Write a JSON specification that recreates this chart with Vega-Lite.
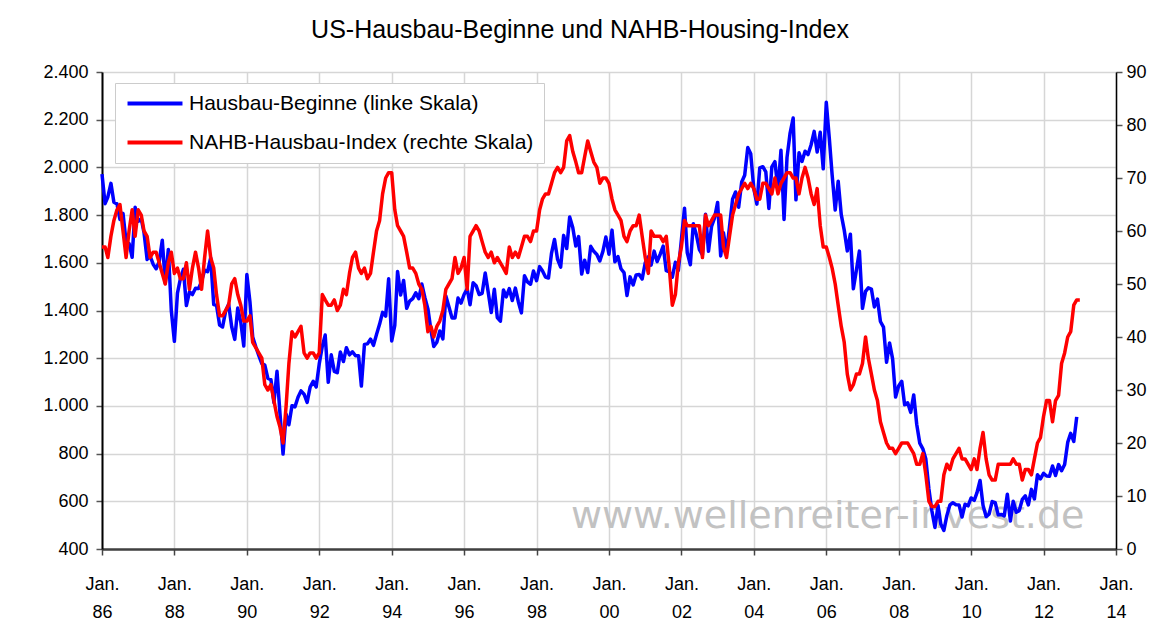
{
"$schema": "https://vega.github.io/schema/vega-lite/v6.json",
"width": 1014, "height": 477,
"autosize": {"type": "none"},
"padding": {"left": 102, "top": 72, "right": 34, "bottom": 75},
"background": "white",
"config": {"font": "Liberation Sans", "view": {"stroke": null},
  "locale": {"number": {"decimal": ",", "thousands": ".", "grouping": [3], "currency": ["", " €"]}}},
"title": {"text": "US-Hausbau-Beginne und NAHB-Housing-Index", "fontSize": 25, "fontWeight": "normal", "color": "#000", "font": "Liberation Sans", "anchor": "middle", "dx": -29, "offset": 20},
"data": {"values": [
{"d":"1986-01","hs":1972,"nahb":57},{"d":"1986-02","hs":1848,"nahb":57},{"d":"1986-03","hs":1876,"nahb":55},{"d":"1986-04","hs":1933,"nahb":59},{"d":"1986-05","hs":1854,"nahb":62},{"d":"1986-06","hs":1847,"nahb":64},{"d":"1986-07","hs":1782,"nahb":65},{"d":"1986-08","hs":1807,"nahb":60},{"d":"1986-09","hs":1687,"nahb":55},{"d":"1986-10","hs":1681,"nahb":60},{"d":"1986-11","hs":1623,"nahb":64},{"d":"1986-12","hs":1833,"nahb":59},
{"d":"1987-01","hs":1774,"nahb":64},{"d":"1987-02","hs":1784,"nahb":63},{"d":"1987-03","hs":1726,"nahb":60},{"d":"1987-04","hs":1614,"nahb":59},{"d":"1987-05","hs":1628,"nahb":55},{"d":"1987-06","hs":1594,"nahb":56},{"d":"1987-07","hs":1575,"nahb":56},{"d":"1987-08","hs":1605,"nahb":54},{"d":"1987-09","hs":1695,"nahb":52},{"d":"1987-10","hs":1515,"nahb":50},{"d":"1987-11","hs":1656,"nahb":54},{"d":"1987-12","hs":1400,"nahb":56},
{"d":"1988-01","hs":1271,"nahb":52},{"d":"1988-02","hs":1473,"nahb":53},{"d":"1988-03","hs":1532,"nahb":51},{"d":"1988-04","hs":1573,"nahb":51},{"d":"1988-05","hs":1421,"nahb":54},{"d":"1988-06","hs":1478,"nahb":49},{"d":"1988-07","hs":1467,"nahb":53},{"d":"1988-08","hs":1493,"nahb":56},{"d":"1988-09","hs":1492,"nahb":53},{"d":"1988-10","hs":1522,"nahb":49},{"d":"1988-11","hs":1569,"nahb":55},{"d":"1988-12","hs":1563,"nahb":60},
{"d":"1989-01","hs":1621,"nahb":55},{"d":"1989-02","hs":1425,"nahb":53},{"d":"1989-03","hs":1422,"nahb":48},{"d":"1989-04","hs":1339,"nahb":44},{"d":"1989-05","hs":1331,"nahb":44},{"d":"1989-06","hs":1397,"nahb":45},{"d":"1989-07","hs":1427,"nahb":46},{"d":"1989-08","hs":1332,"nahb":50},{"d":"1989-09","hs":1279,"nahb":51},{"d":"1989-10","hs":1410,"nahb":48},{"d":"1989-11","hs":1351,"nahb":46},{"d":"1989-12","hs":1251,"nahb":43},
{"d":"1990-01","hs":1551,"nahb":43},{"d":"1990-02","hs":1437,"nahb":44},{"d":"1990-03","hs":1289,"nahb":39},{"d":"1990-04","hs":1248,"nahb":38},{"d":"1990-05","hs":1212,"nahb":37},{"d":"1990-06","hs":1177,"nahb":36},{"d":"1990-07","hs":1171,"nahb":31},{"d":"1990-08","hs":1115,"nahb":30},{"d":"1990-09","hs":1110,"nahb":31},{"d":"1990-10","hs":1014,"nahb":28},{"d":"1990-11","hs":1145,"nahb":25},{"d":"1990-12","hs":969,"nahb":23},
{"d":"1991-01","hs":798,"nahb":20},{"d":"1991-02","hs":965,"nahb":27},{"d":"1991-03","hs":921,"nahb":35},{"d":"1991-04","hs":1001,"nahb":41},{"d":"1991-05","hs":996,"nahb":40},{"d":"1991-06","hs":1036,"nahb":41},{"d":"1991-07","hs":1063,"nahb":42},{"d":"1991-08","hs":1049,"nahb":37},{"d":"1991-09","hs":1015,"nahb":36},{"d":"1991-10","hs":1079,"nahb":37},{"d":"1991-11","hs":1103,"nahb":37},{"d":"1991-12","hs":1079,"nahb":36},
{"d":"1992-01","hs":1176,"nahb":37},{"d":"1992-02","hs":1250,"nahb":48},{"d":"1992-03","hs":1297,"nahb":47},{"d":"1992-04","hs":1099,"nahb":46},{"d":"1992-05","hs":1214,"nahb":46},{"d":"1992-06","hs":1145,"nahb":47},{"d":"1992-07","hs":1139,"nahb":45},{"d":"1992-08","hs":1226,"nahb":46},{"d":"1992-09","hs":1186,"nahb":49},{"d":"1992-10","hs":1244,"nahb":48},{"d":"1992-11","hs":1214,"nahb":52},{"d":"1992-12","hs":1227,"nahb":55},
{"d":"1993-01","hs":1210,"nahb":56},{"d":"1993-02","hs":1210,"nahb":53},{"d":"1993-03","hs":1083,"nahb":52},{"d":"1993-04","hs":1258,"nahb":53},{"d":"1993-05","hs":1260,"nahb":51},{"d":"1993-06","hs":1280,"nahb":52},{"d":"1993-07","hs":1254,"nahb":56},{"d":"1993-08","hs":1300,"nahb":60},{"d":"1993-09","hs":1343,"nahb":62},{"d":"1993-10","hs":1392,"nahb":67},{"d":"1993-11","hs":1376,"nahb":70},{"d":"1993-12","hs":1533,"nahb":71},
{"d":"1994-01","hs":1272,"nahb":71},{"d":"1994-02","hs":1337,"nahb":64},{"d":"1994-03","hs":1564,"nahb":61},{"d":"1994-04","hs":1465,"nahb":60},{"d":"1994-05","hs":1526,"nahb":59},{"d":"1994-06","hs":1409,"nahb":56},{"d":"1994-07","hs":1439,"nahb":53},{"d":"1994-08","hs":1450,"nahb":53},{"d":"1994-09","hs":1474,"nahb":52},{"d":"1994-10","hs":1450,"nahb":50},{"d":"1994-11","hs":1511,"nahb":49},{"d":"1994-12","hs":1455,"nahb":46},
{"d":"1995-01","hs":1407,"nahb":41},{"d":"1995-02","hs":1316,"nahb":42},{"d":"1995-03","hs":1249,"nahb":40},{"d":"1995-04","hs":1267,"nahb":42},{"d":"1995-05","hs":1314,"nahb":43},{"d":"1995-06","hs":1281,"nahb":45},{"d":"1995-07","hs":1461,"nahb":49},{"d":"1995-08","hs":1416,"nahb":50},{"d":"1995-09","hs":1369,"nahb":51},{"d":"1995-10","hs":1369,"nahb":55},{"d":"1995-11","hs":1452,"nahb":52},{"d":"1995-12","hs":1431,"nahb":53},
{"d":"1996-01","hs":1467,"nahb":55},{"d":"1996-02","hs":1491,"nahb":49},{"d":"1996-03","hs":1424,"nahb":59},{"d":"1996-04","hs":1516,"nahb":60},{"d":"1996-05","hs":1504,"nahb":61},{"d":"1996-06","hs":1467,"nahb":60},{"d":"1996-07","hs":1472,"nahb":58},{"d":"1996-08","hs":1557,"nahb":56},{"d":"1996-09","hs":1475,"nahb":55},{"d":"1996-10","hs":1392,"nahb":56},{"d":"1996-11","hs":1489,"nahb":54},{"d":"1996-12","hs":1370,"nahb":55},
{"d":"1997-01","hs":1355,"nahb":54},{"d":"1997-02","hs":1486,"nahb":53},{"d":"1997-03","hs":1457,"nahb":52},{"d":"1997-04","hs":1492,"nahb":57},{"d":"1997-05","hs":1442,"nahb":55},{"d":"1997-06","hs":1494,"nahb":56},{"d":"1997-07","hs":1437,"nahb":55},{"d":"1997-08","hs":1390,"nahb":57},{"d":"1997-09","hs":1546,"nahb":59},{"d":"1997-10","hs":1520,"nahb":59},{"d":"1997-11","hs":1510,"nahb":58},{"d":"1997-12","hs":1566,"nahb":60},
{"d":"1998-01","hs":1525,"nahb":60},{"d":"1998-02","hs":1584,"nahb":64},{"d":"1998-03","hs":1567,"nahb":66},{"d":"1998-04","hs":1540,"nahb":67},{"d":"1998-05","hs":1536,"nahb":67},{"d":"1998-06","hs":1641,"nahb":69},{"d":"1998-07","hs":1698,"nahb":71},{"d":"1998-08","hs":1614,"nahb":72},{"d":"1998-09","hs":1582,"nahb":71},{"d":"1998-10","hs":1715,"nahb":72},{"d":"1998-11","hs":1660,"nahb":77},{"d":"1998-12","hs":1792,"nahb":78},
{"d":"1999-01","hs":1748,"nahb":75},{"d":"1999-02","hs":1670,"nahb":73},{"d":"1999-03","hs":1710,"nahb":71},{"d":"1999-04","hs":1553,"nahb":71},{"d":"1999-05","hs":1611,"nahb":74},{"d":"1999-06","hs":1559,"nahb":77},{"d":"1999-07","hs":1669,"nahb":75},{"d":"1999-08","hs":1648,"nahb":73},{"d":"1999-09","hs":1635,"nahb":72},{"d":"1999-10","hs":1608,"nahb":69},{"d":"1999-11","hs":1648,"nahb":70},{"d":"1999-12","hs":1708,"nahb":70},
{"d":"2000-01","hs":1636,"nahb":69},{"d":"2000-02","hs":1737,"nahb":66},{"d":"2000-03","hs":1604,"nahb":64},{"d":"2000-04","hs":1626,"nahb":63},{"d":"2000-05","hs":1575,"nahb":62},{"d":"2000-06","hs":1559,"nahb":59},{"d":"2000-07","hs":1463,"nahb":58},{"d":"2000-08","hs":1541,"nahb":60},{"d":"2000-09","hs":1507,"nahb":61},{"d":"2000-10","hs":1549,"nahb":61},{"d":"2000-11","hs":1551,"nahb":63},{"d":"2000-12","hs":1532,"nahb":59},
{"d":"2001-01","hs":1600,"nahb":55},{"d":"2001-02","hs":1625,"nahb":52},{"d":"2001-03","hs":1590,"nahb":60},{"d":"2001-04","hs":1649,"nahb":59},{"d":"2001-05","hs":1605,"nahb":59},{"d":"2001-06","hs":1636,"nahb":59},{"d":"2001-07","hs":1670,"nahb":58},{"d":"2001-08","hs":1567,"nahb":59},{"d":"2001-09","hs":1562,"nahb":53},{"d":"2001-10","hs":1540,"nahb":46},{"d":"2001-11","hs":1602,"nahb":48},{"d":"2001-12","hs":1568,"nahb":54},
{"d":"2002-01","hs":1698,"nahb":57},{"d":"2002-02","hs":1829,"nahb":62},{"d":"2002-03","hs":1642,"nahb":61},{"d":"2002-04","hs":1592,"nahb":61},{"d":"2002-05","hs":1764,"nahb":61},{"d":"2002-06","hs":1717,"nahb":61},{"d":"2002-07","hs":1655,"nahb":61},{"d":"2002-08","hs":1633,"nahb":55},{"d":"2002-09","hs":1804,"nahb":63},{"d":"2002-10","hs":1648,"nahb":61},{"d":"2002-11","hs":1753,"nahb":62},{"d":"2002-12","hs":1788,"nahb":63},
{"d":"2003-01","hs":1853,"nahb":63},{"d":"2003-02","hs":1629,"nahb":63},{"d":"2003-03","hs":1726,"nahb":57},{"d":"2003-04","hs":1643,"nahb":55},{"d":"2003-05","hs":1751,"nahb":59},{"d":"2003-06","hs":1867,"nahb":63},{"d":"2003-07","hs":1897,"nahb":65},{"d":"2003-08","hs":1833,"nahb":67},{"d":"2003-09","hs":1939,"nahb":68},{"d":"2003-10","hs":1967,"nahb":69},{"d":"2003-11","hs":2083,"nahb":68},{"d":"2003-12","hs":2057,"nahb":69},
{"d":"2004-01","hs":1911,"nahb":68},{"d":"2004-02","hs":1846,"nahb":66},{"d":"2004-03","hs":1998,"nahb":66},{"d":"2004-04","hs":2003,"nahb":69},{"d":"2004-05","hs":1981,"nahb":69},{"d":"2004-06","hs":1828,"nahb":68},{"d":"2004-07","hs":2002,"nahb":67},{"d":"2004-08","hs":2024,"nahb":70},{"d":"2004-09","hs":1905,"nahb":67},{"d":"2004-10","hs":2072,"nahb":69},{"d":"2004-11","hs":1782,"nahb":70},{"d":"2004-12","hs":2042,"nahb":71},
{"d":"2005-01","hs":2144,"nahb":71},{"d":"2005-02","hs":2207,"nahb":70},{"d":"2005-03","hs":1864,"nahb":70},{"d":"2005-04","hs":2061,"nahb":67},{"d":"2005-05","hs":2025,"nahb":70},{"d":"2005-06","hs":2068,"nahb":72},{"d":"2005-07","hs":2054,"nahb":70},{"d":"2005-08","hs":2095,"nahb":67},{"d":"2005-09","hs":2151,"nahb":65},{"d":"2005-10","hs":2065,"nahb":68},{"d":"2005-11","hs":2147,"nahb":61},{"d":"2005-12","hs":1994,"nahb":57},
{"d":"2006-01","hs":2273,"nahb":57},{"d":"2006-02","hs":2119,"nahb":55},{"d":"2006-03","hs":1969,"nahb":53},{"d":"2006-04","hs":1821,"nahb":50},{"d":"2006-05","hs":1942,"nahb":46},{"d":"2006-06","hs":1802,"nahb":42},{"d":"2006-07","hs":1737,"nahb":39},{"d":"2006-08","hs":1650,"nahb":33},{"d":"2006-09","hs":1720,"nahb":30},{"d":"2006-10","hs":1491,"nahb":31},{"d":"2006-11","hs":1570,"nahb":33},{"d":"2006-12","hs":1649,"nahb":33},
{"d":"2007-01","hs":1409,"nahb":35},{"d":"2007-02","hs":1480,"nahb":40},{"d":"2007-03","hs":1495,"nahb":36},{"d":"2007-04","hs":1490,"nahb":33},{"d":"2007-05","hs":1415,"nahb":30},{"d":"2007-06","hs":1448,"nahb":28},{"d":"2007-07","hs":1354,"nahb":24},{"d":"2007-08","hs":1330,"nahb":22},{"d":"2007-09","hs":1183,"nahb":20},{"d":"2007-10","hs":1264,"nahb":19},{"d":"2007-11","hs":1197,"nahb":19},{"d":"2007-12","hs":1037,"nahb":18},
{"d":"2008-01","hs":1084,"nahb":19},{"d":"2008-02","hs":1103,"nahb":20},{"d":"2008-03","hs":1005,"nahb":20},{"d":"2008-04","hs":1013,"nahb":20},{"d":"2008-05","hs":973,"nahb":19},{"d":"2008-06","hs":1046,"nahb":18},{"d":"2008-07","hs":923,"nahb":16},{"d":"2008-08","hs":844,"nahb":16},{"d":"2008-09","hs":820,"nahb":18},{"d":"2008-10","hs":777,"nahb":14},{"d":"2008-11","hs":652,"nahb":9},{"d":"2008-12","hs":560,"nahb":8},
{"d":"2009-01","hs":490,"nahb":8},{"d":"2009-02","hs":582,"nahb":9},{"d":"2009-03","hs":505,"nahb":9},{"d":"2009-04","hs":478,"nahb":14},{"d":"2009-05","hs":540,"nahb":16},{"d":"2009-06","hs":585,"nahb":15},{"d":"2009-07","hs":594,"nahb":17},{"d":"2009-08","hs":586,"nahb":18},{"d":"2009-09","hs":585,"nahb":19},{"d":"2009-10","hs":534,"nahb":17},{"d":"2009-11","hs":588,"nahb":17},{"d":"2009-12","hs":581,"nahb":16},
{"d":"2010-01","hs":614,"nahb":15},{"d":"2010-02","hs":604,"nahb":17},{"d":"2010-03","hs":636,"nahb":15},{"d":"2010-04","hs":687,"nahb":19},{"d":"2010-05","hs":583,"nahb":22},{"d":"2010-06","hs":536,"nahb":17},{"d":"2010-07","hs":546,"nahb":14},{"d":"2010-08","hs":599,"nahb":13},{"d":"2010-09","hs":594,"nahb":13},{"d":"2010-10","hs":543,"nahb":16},{"d":"2010-11","hs":545,"nahb":16},{"d":"2010-12","hs":539,"nahb":16},
{"d":"2011-01","hs":630,"nahb":16},{"d":"2011-02","hs":517,"nahb":16},{"d":"2011-03","hs":600,"nahb":17},{"d":"2011-04","hs":554,"nahb":16},{"d":"2011-05","hs":561,"nahb":16},{"d":"2011-06","hs":608,"nahb":13},{"d":"2011-07","hs":623,"nahb":15},{"d":"2011-08","hs":585,"nahb":15},{"d":"2011-09","hs":650,"nahb":14},{"d":"2011-10","hs":610,"nahb":17},{"d":"2011-11","hs":711,"nahb":20},{"d":"2011-12","hs":694,"nahb":21},
{"d":"2012-01","hs":717,"nahb":25},{"d":"2012-02","hs":706,"nahb":28},{"d":"2012-03","hs":705,"nahb":28},{"d":"2012-04","hs":748,"nahb":24},{"d":"2012-05","hs":708,"nahb":28},{"d":"2012-06","hs":754,"nahb":29},{"d":"2012-07","hs":728,"nahb":35},{"d":"2012-08","hs":754,"nahb":37},{"d":"2012-09","hs":847,"nahb":40},{"d":"2012-10","hs":885,"nahb":41},{"d":"2012-11","hs":851,"nahb":46},{"d":"2012-12","hs":954,"nahb":47},
{"d":"2013-01","nahb":47}
]},
"layer": [
  {"layer": [
    {"data": {"values": [{"label": "www.wellenreiter-invest.de"}]},
     "mark": {"type": "text", "font": "DejaVu Sans", "fontSize": 38, "color": "#c2c2c2", "align": "center", "baseline": "middle"},
     "encoding": {
       "x": {"datum": {"year": 2006, "month": 1, "date": 15, "utc": true}, "type": "temporal"},
       "y": {"datum": 534, "type": "quantitative"},
       "text": {"field": "label", "type": "nominal"}
     }},
    {"mark": {"type": "line", "strokeWidth": 3.5, "strokeJoin": "round"},
     "encoding": {
       "x": {"field": "d", "type": "temporal",
             "scale": {"type": "utc", "domain": [{"year": 1986, "month": 1, "date": 1, "utc": true}, {"year": 2014, "month": 1, "date": 1, "utc": true}]},
             "axis": {"title": null,
               "values": [{"year":1986,"month":1,"date":1,"utc":true},{"year":1988,"month":1,"date":1,"utc":true},{"year":1990,"month":1,"date":1,"utc":true},{"year":1992,"month":1,"date":1,"utc":true},{"year":1994,"month":1,"date":1,"utc":true},{"year":1996,"month":1,"date":1,"utc":true},{"year":1998,"month":1,"date":1,"utc":true},{"year":2000,"month":1,"date":1,"utc":true},{"year":2002,"month":1,"date":1,"utc":true},{"year":2004,"month":1,"date":1,"utc":true},{"year":2006,"month":1,"date":1,"utc":true},{"year":2008,"month":1,"date":1,"utc":true},{"year":2010,"month":1,"date":1,"utc":true},{"year":2012,"month":1,"date":1,"utc":true},{"year":2014,"month":1,"date":1,"utc":true}],
               "labelExpr": "['Jan.', utcFormat(datum.value, '%y')]",
               "labelFontSize": 18, "labelColor": "#000", "labelFlush": false, "labelOverlap": false,
               "labelPadding": 20, "labelLineHeight": 28, "labelBaseline": "top",
               "tickSize": 6, "tickColor": "#444", "tickWidth": 1.5,
               "domainColor": "#404040", "domainWidth": 2.5,
               "grid": true, "gridColor": "#d6d6d6", "gridWidth": 1.5}},
       "y": {"field": "hs", "type": "quantitative", "scale": {"domain": [400, 2400], "nice": false, "zero": false},
             "axis": {"title": null, "orient": "left", "values": [400,600,800,1000,1200,1400,1600,1800,2000,2200,2400], "format": ",d",
               "labelFontSize": 18, "labelColor": "#000", "labelPadding": 8,
               "tickSize": 6, "tickColor": "#555", "tickWidth": 1.5,
               "domainColor": "#000", "domainWidth": 2,
               "grid": true, "gridColor": "#d6d6d6", "gridWidth": 1.5}},
       "color": {"datum": "Hausbau-Beginne (linke Skala)", "type": "nominal",
             "scale": {"domain": ["Hausbau-Beginne (linke Skala)", "NAHB-Hausbau-Index (rechte Skala)"], "range": ["#0000ff", "#ff0000"]},
             "legend": {"orient": "none", "legendX": 13, "legendY": 11, "title": null, "symbolType": "M-1.33,0H7.83", "symbolStrokeWidth": 4, "symbolSize": 144,
               "labelFontSize": 21, "labelColor": "#000", "labelFont": "Liberation Sans", "labelLimit": 600, "labelOffset": 43,
               "strokeColor": "#cccccc", "fillColor": "#ffffff", "padding": 10, "rowPadding": 17, "direction": "vertical"}}
     }}
  ]},
  {"mark": {"type": "line", "strokeWidth": 3.5, "strokeJoin": "round"},
   "encoding": {
     "x": {"field": "d", "type": "temporal"},
     "y": {"field": "nahb", "type": "quantitative", "scale": {"domain": [0, 90], "nice": false},
           "axis": {"title": null, "orient": "right", "values": [0,10,20,30,40,50,60,70,80,90], "format": "d",
             "labelFontSize": 18, "labelColor": "#000", "labelPadding": 4,
             "tickSize": 6, "tickColor": "#555", "tickWidth": 1.5,
             "domainColor": "#000", "domainWidth": 1.5, "grid": false}},
     "color": {"datum": "NAHB-Hausbau-Index (rechte Skala)", "type": "nominal"}
   }}
],
"resolve": {"scale": {"y": "independent"}}
}
